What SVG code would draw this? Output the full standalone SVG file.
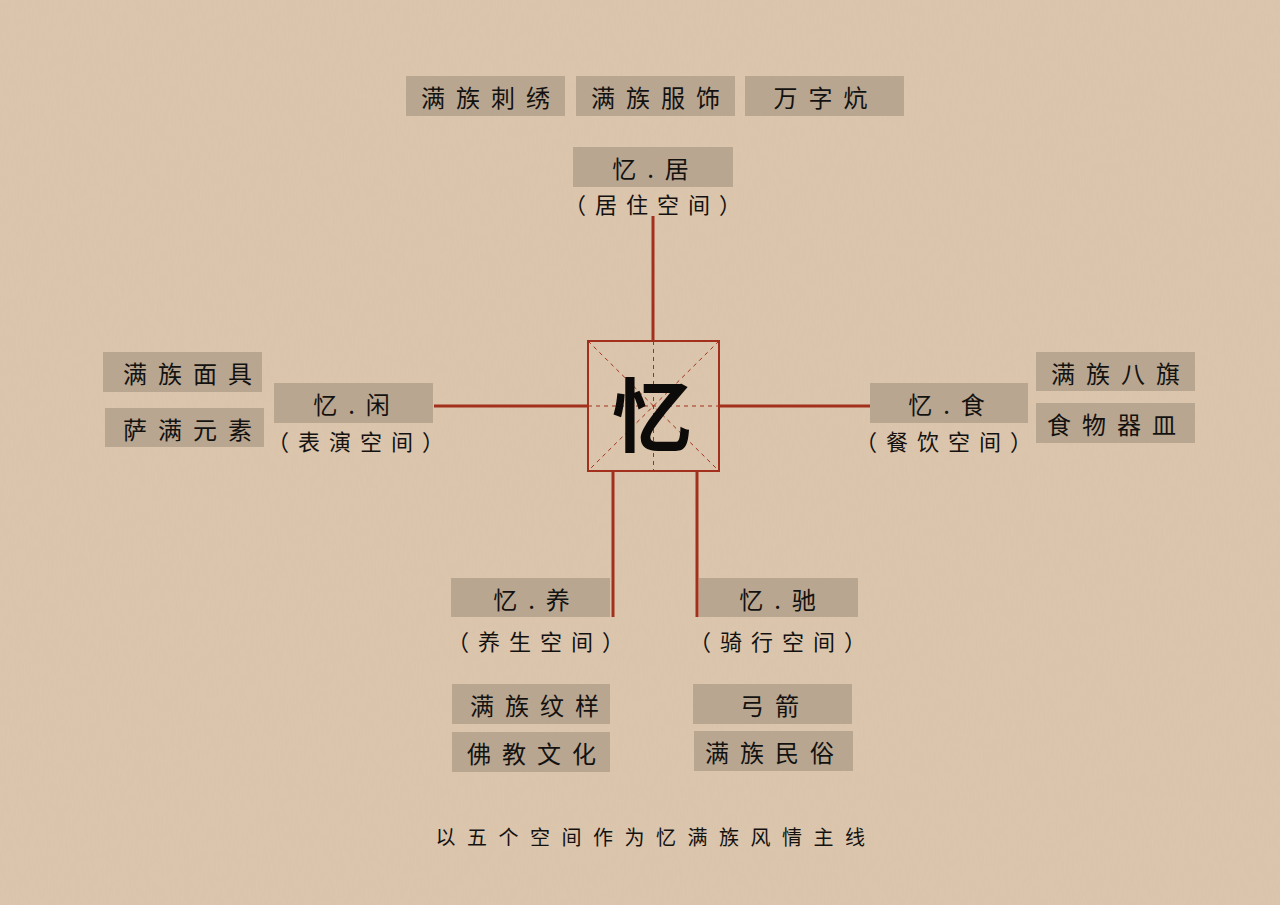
<svg xmlns="http://www.w3.org/2000/svg" width="1280" height="905" viewBox="0 0 1280 905">
<defs>
<filter id="tex" x="0" y="0" width="100%" height="100%">
<feTurbulence type="fractalNoise" baseFrequency="0.9 0.08" numOctaves="2" seed="3" result="n"/>
<feColorMatrix in="n" type="matrix" values="0 0 0 0 0.55  0 0 0 0 0.45  0 0 0 0 0.35  0 0 0 0.12 0"/>
</filter>
<style>
.box{fill:#b8a690}
.t{font-family:"Noto Sans CJK SC","Noto Sans CJK JP",sans-serif;font-size:24px;font-weight:400;fill:#141210;text-anchor:middle;dominant-baseline:central;letter-spacing:11px}
.s{font-family:"Noto Sans CJK SC","Noto Sans CJK JP",sans-serif;font-size:22px;font-weight:400;fill:#141210;text-anchor:middle;dominant-baseline:central;letter-spacing:9px}
.f{font-family:"Noto Sans CJK SC","Noto Sans CJK JP",sans-serif;font-size:20px;font-weight:400;fill:#141210;text-anchor:middle;dominant-baseline:central;letter-spacing:11.5px}
.ln{stroke:#a3301c;stroke-width:3;fill:none}
.g{stroke:#a3301c;stroke-width:1;stroke-dasharray:4 4;fill:none}
</style>
</defs>
<rect width="1280" height="905" fill="#dcc6ad"/>
<rect width="1280" height="905" filter="url(#tex)"/>

<g id="connectors">
<line class="ln" x1="653" y1="216" x2="653" y2="341"/>
<line class="ln" x1="434" y1="406" x2="588" y2="406"/>
<line class="ln" x1="719" y1="406" x2="870" y2="406"/>
<line class="ln" x1="613" y1="471" x2="613" y2="617"/>
<line class="ln" x1="697" y1="471" x2="697" y2="617"/>
</g>

<g id="center">
<rect x="588" y="341" width="131" height="130" fill="none" stroke="#a3301c" stroke-width="2"/>
<line class="g" x1="588" y1="406" x2="719" y2="406"/>
<line class="g" x1="653.5" y1="341" x2="653.5" y2="471"/>
<line class="g" x1="588" y1="341" x2="719" y2="471"/>
<line class="g" x1="719" y1="341" x2="588" y2="471"/>
<text x="652" y="410" font-family="'Noto Sans CJK SC',sans-serif" font-size="80" font-weight="700" fill="#0d0b0a" text-anchor="middle" dominant-baseline="central">忆</text>
</g>

<g id="top-items">
<rect class="box" x="406" y="76" width="159" height="40"/>
<text class="t" x="491" y="96">满族刺绣</text>
<rect class="box" x="576" y="76" width="159" height="40"/>
<text class="t" x="661" y="96">满族服饰</text>
<rect class="box" x="745" y="76" width="159" height="40"/>
<text class="t" x="826" y="96">万字炕</text>
</g>

<g id="node-ju">
<rect class="box" x="573" y="147" width="160" height="40"/>
<text class="t" x="656" y="167" letter-spacing="14">忆.居</text>
<text class="s" x="657" y="203">（居住空间）</text>
</g>

<g id="node-xian">
<rect class="box" x="274" y="383" width="159" height="40"/>
<text class="t" x="357" y="403" letter-spacing="14">忆.闲</text>
<text class="s" x="360" y="440">（表演空间）</text>
<rect class="box" x="103" y="352" width="159" height="40"/>
<text class="t" x="193" y="372">满族面具</text>
<rect class="box" x="105" y="408" width="159" height="39"/>
<text class="t" x="193" y="428">萨满元素</text>
</g>

<g id="node-shi">
<rect class="box" x="870" y="383" width="158" height="40"/>
<text class="t" x="952" y="403" letter-spacing="14">忆.食</text>
<text class="s" x="948" y="440">（餐饮空间）</text>
<rect class="box" x="1036" y="352" width="159" height="39"/>
<text class="t" x="1121" y="372">满族八旗</text>
<rect class="box" x="1036" y="403" width="159" height="40"/>
<text class="t" x="1117" y="423">食物器皿</text>
</g>

<g id="node-yang">
<rect class="box" x="451" y="578" width="159" height="39"/>
<text class="t" x="537" y="598" letter-spacing="14">忆.养</text>
<text class="s" x="540" y="640">（养生空间）</text>
<rect class="box" x="452" y="684" width="158" height="40"/>
<text class="t" x="540" y="704">满族纹样</text>
<rect class="box" x="452" y="732" width="158" height="40"/>
<text class="t" x="537" y="752">佛教文化</text>
</g>

<g id="node-chi">
<rect class="box" x="699" y="578" width="159" height="39"/>
<text class="t" x="783" y="598" letter-spacing="14">忆.驰</text>
<text class="s" x="782" y="640">（骑行空间）</text>
<rect class="box" x="693" y="684" width="159" height="40"/>
<text class="t" x="775" y="704">弓箭</text>
<rect class="box" x="694" y="731" width="159" height="40"/>
<text class="t" x="775" y="751">满族民俗</text>
</g>

<text class="f" x="656" y="836">以五个空间作为忆满族风情主线</text>
</svg>
